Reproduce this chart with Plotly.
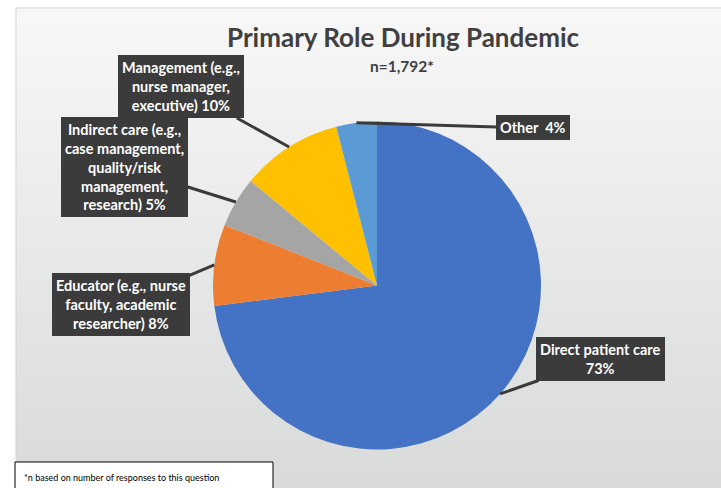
import math
import plotly.graph_objects as go

# ---- data ----
categories = ["Direct patient care", "Educator", "Indirect care", "Management", "Other"]
values = [73, 8, 5, 10, 4]
label_texts = [
    "Direct patient care<br>73%",
    "Educator (e.g., nurse<br>faculty, academic<br>researcher) 8%",
    "Indirect care (e.g.,<br>case management,<br>quality/risk<br>management,<br>research) 5%",
    "Management (e.g.,<br>nurse manager,<br>executive) 10%",
    "Other  4%",
]
colors = ["#4472C4", "#ED7D31", "#A5A5A5", "#FFC000", "#5B9BD5"]
title_text = "Primary Role During Pandemic"
subtitle_text = "n=1,792*"
footnote_text = "*n based on number of responses to this question"

# ---- layout constants ----
W, H = 721, 488
CX, CY, R = 377, 285.5, 164  # pie centre / radius in pixels
# callout box centres (pixels)
box_centres = [(600, 359), (121, 304), (124, 167), (181, 87), (533, 128)]
FONT = "Lato, Open Sans, sans-serif"

fig = go.Figure()
fig.add_trace(go.Pie(
    labels=categories, values=values, sort=False, direction="clockwise",
    rotation=0, marker=dict(colors=colors, line=dict(width=0)),
    textinfo="none", hoverinfo="label+percent", showlegend=False,
    domain=dict(x=[(CX - R) / W, (CX + R) / W], y=[1 - (CY + R) / H, 1 - (CY - R) / H]),
))

# background gradient panel
shapes = []
n_bands = 30
top_c, bot_c = (247, 247, 247), (217, 218, 218)
y_top, y_bot = 8, H
for i in range(n_bands):
    t = i / (n_bands - 1)
    c = tuple(int(round(a + (b - a) * t)) for a, b in zip(top_c, bot_c))
    ya = y_top + (y_bot - y_top) * i / n_bands
    yb = y_top + (y_bot - y_top) * (i + 1) / n_bands + 1
    shapes.append(dict(type="rect", xref="paper", yref="paper",
                       x0=16 / W, x1=1, y0=max(0, 1 - yb / H), y1=1 - ya / H,
                       fillcolor="rgb(%d,%d,%d)" % c, line=dict(width=0), layer="below"))
shapes.append(dict(type="path", xref="paper", yref="paper",
                   path="M %f,0 L %f,%f L 1,%f" % (16 / W, 16 / W, 1 - 8 / H, 1 - 8 / H),
                   line=dict(color="#d4d4d4", width=1), layer="below"))
# footnote box
shapes.append(dict(type="rect", xref="paper", yref="paper",
                   x0=15 / W, x1=273 / W, y0=-0.01, y1=1 - 462 / H,
                   fillcolor="white", line=dict(color="black", width=1), layer="above"))

annotations = [
    dict(text="<b>%s</b>" % title_text, x=403 / W, y=1 - 37 / H, xref="paper", yref="paper",
         xanchor="center", yanchor="middle", showarrow=False,
         font=dict(family=FONT, size=26, color="#404040")),
    dict(text="<b>%s</b>" % subtitle_text, x=402 / W, y=1 - 66 / H, xref="paper", yref="paper",
         xanchor="center", yanchor="middle", showarrow=False,
         font=dict(family=FONT, size=15.5, color="#404040")),
    dict(text=footnote_text, x=22 / W, y=1 - 477 / H, xref="paper", yref="paper",
         xanchor="left", yanchor="middle", showarrow=False,
         font=dict(family=FONT, size=9, color="black")),
]

total = sum(values)
cum = 0
for val, txt, (bx, by) in zip(values, label_texts, box_centres):
    mid = (cum + val / 2) / total
    cum += val
    ang = 2 * math.pi * mid
    px = CX + R * math.sin(ang)
    py = CY - R * math.cos(ang)
    annotations.append(dict(
        text="<b>%s</b>" % txt, x=px / W, y=1 - py / H, xref="paper", yref="paper",
        ax=bx - px, ay=by - py, showarrow=True, arrowhead=0, arrowwidth=3,
        arrowcolor="#3a3a3a", standoff=0,
        bgcolor="#3b3b3b", bordercolor="#3b3b3b", borderpad=3,
        font=dict(family=FONT, size=14.5, color="white"), align="center",
    ))

fig.update_layout(
    width=W, height=H, margin=dict(l=0, r=0, t=0, b=0),
    paper_bgcolor="white", plot_bgcolor="white",
    shapes=shapes, annotations=annotations,
)
fig.write_html("out.html", config={"displayModeBar": False},
               post_script="document.body.style.margin='0';document.body.style.overflow='hidden';")
